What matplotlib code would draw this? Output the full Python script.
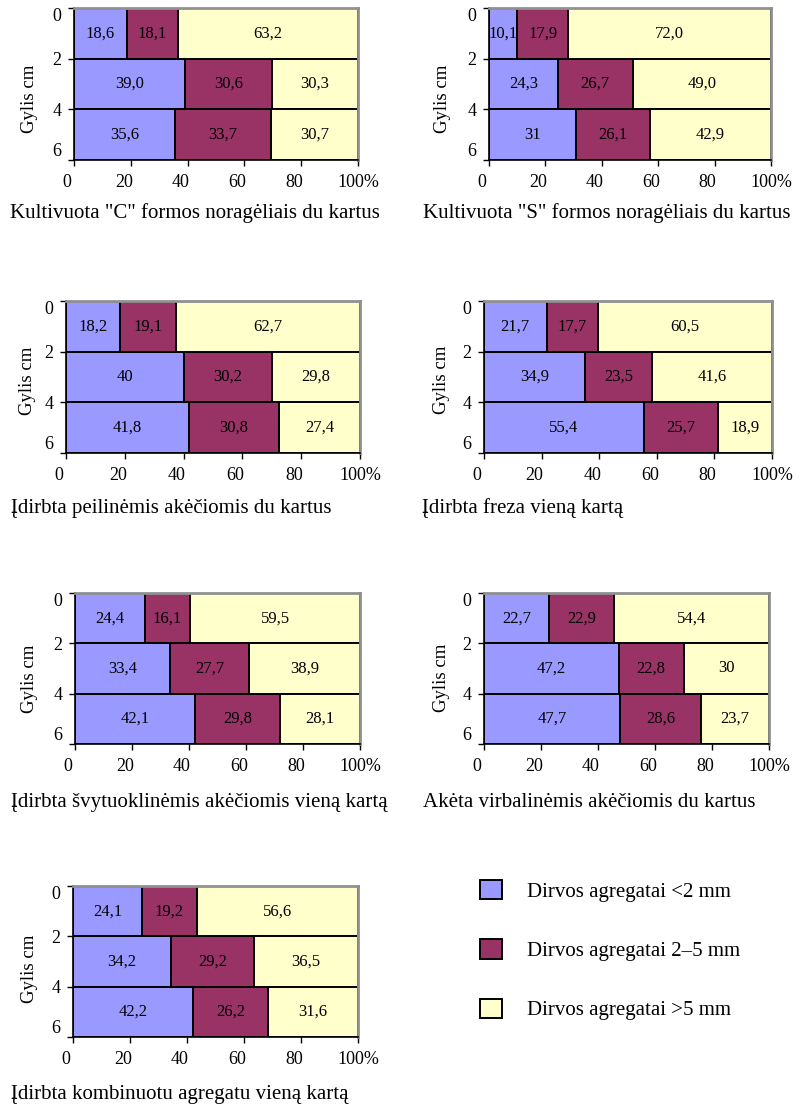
import matplotlib
matplotlib.use("Agg")
import matplotlib.pyplot as plt
import matplotlib.transforms as mtransforms
import numpy as np

plt.rcParams['font.family'] = ['Liberation Serif', 'DejaVu Serif']

# ---------------- data ----------------
depth_ticks = [0, 2, 4, 6]
x_ticks = [0, 20, 40, 60, 80, 100]
x_tick_labels = ["0", "20", "40", "60", "80", "100%"]
series_names = ["Dirvos agregatai <2 mm", "Dirvos agregatai 2\u20135 mm", "Dirvos agregatai >5 mm"]
colors = ["#9999FF", "#993366", "#FFFFCC"]

titles = [
    'Kultivuota "C" formos noragėliais du kartus',
    'Kultivuota "S" formos noragėliais du kartus',
    'Įdirbta peilinėmis akėčiomis du kartus',
    'Įdirbta freza vieną kartą',
    'Įdirbta švytuoklinėmis akėčiomis vieną kartą',
    'Akėta virbalinėmis akėčiomis du kartus',
    'Įdirbta kombinuotu agregatu vieną kartą',
]

# per panel: [fine <2mm], [medium 2-5mm], [coarse >5mm]  (rows: 0-2, 2-4, 4-6 cm)
fine = [
    ["18,6", "39,0", "35,6"],
    ["10,1", "24,3", "31"],
    ["18,2", "40", "41,8"],
    ["21,7", "34,9", "55,4"],
    ["24,4", "33,4", "42,1"],
    ["22,7", "47,2", "47,7"],
    ["24,1", "34,2", "42,2"],
]
medium = [
    ["18,1", "30,6", "33,7"],
    ["17,9", "26,7", "26,1"],
    ["19,1", "30,2", "30,8"],
    ["17,7", "23,5", "25,7"],
    ["16,1", "27,7", "29,8"],
    ["22,9", "22,8", "28,6"],
    ["19,2", "29,2", "26,2"],
]
coarse = [
    ["63,2", "30,3", "30,7"],
    ["72,0", "49,0", "42,9"],
    ["62,7", "29,8", "27,4"],
    ["60,5", "41,6", "18,9"],
    ["59,5", "38,9", "28,1"],
    ["54,4", "30", "23,7"],
    ["56,6", "36,5", "31,6"],
]

# ---------------- layout (pixels) ----------------
W, H = 807, 1107
# left, right, top, bottom of plot area
rects = [
    (74, 358, 8, 160),
    (489, 771, 8, 160),
    (66, 360, 301, 453),
    (484, 772, 301, 453),
    (75, 360, 593, 744),
    (484, 769, 593, 744),
    (73, 358, 886, 1037),
]
ylabel_pos = [(30, 99), (443, 99), (28, 381), (442, 380), (29, 679), (442, 678), (29, 969)]
caption_pos = [(10, 218), (423, 218), (11, 513), (422, 513), (11, 807), (423, 807), (11, 1099)]

fig = plt.figure(figsize=(W / 100, H / 100), dpi=100)

def px2fig(x, y):
    return x / W, 1 - y / H

shift_left = mtransforms.ScaledTranslation(-7 / 100, 0, fig.dpi_scale_trans)

handles = None
for i in range(7):
    l, r, t, b = rects[i]
    ax = fig.add_axes([l / W, 1 - b / H, (r - l) / W, (b - t) / H])
    rows = [fine[i], medium[i], coarse[i]]
    vals = np.array([[float(s.replace(',', '.')) for s in row] for row in rows])
    totals = vals.sum(axis=0)
    pct = vals / totals * 100
    ycent = np.array([1, 3, 5])
    left = np.zeros(3)
    hs = []
    for k in range(3):
        bars = ax.barh(ycent, pct[k], left=left, height=2, color=colors[k],
                       edgecolor='black', linewidth=1.4, label=series_names[k])
        hs.append(bars)
        for j in range(3):
            ax.text(left[j] + pct[k][j] / 2, ycent[j], rows[k][j],
                    ha='center', va='center', fontsize=12, color='black')
        left = left + pct[k]
    if handles is None:
        handles = hs
    ax.set_xlim(0, 100)
    ax.set_ylim(6, 0)
    ax.set_xticks(x_ticks)
    ax.set_xticklabels(x_tick_labels)
    ax.set_yticks(depth_ticks)
    ax.set_yticklabels([str(d) for d in depth_ticks])
    ax.tick_params(axis='both', labelsize=13, length=4, width=1, direction='out', color='black')
    ax.tick_params(axis='x', pad=6)
    ax.tick_params(axis='y', pad=5)
    xl = ax.get_xticklabels()
    for lab in xl[:-1]:
        lab.set_transform(lab.get_transform() + shift_left)
    yl = ax.get_yticklabels()
    yl[0].set_va('top')
    yl[-1].set_va('bottom')
    for s in ['top', 'right']:
        ax.spines[s].set_color('#909090')
        ax.spines[s].set_linewidth(2)
    for s in ['left', 'bottom']:
        ax.spines[s].set_color('black')
        ax.spines[s].set_linewidth(1.2)
    fx, fy = px2fig(*ylabel_pos[i])
    fig.text(fx, fy, "Gylis cm", rotation=90, ha='center', va='center', fontsize=13.5)
    cx, cy = px2fig(*caption_pos[i])
    fig.text(cx, cy, titles[i], ha='left', va='baseline', fontsize=15)

lx, ly = px2fig(480, 880)
fig.legend(handles, series_names, loc='upper left', bbox_to_anchor=(lx, ly),
           frameon=False, fontsize=15, handlelength=1.05, handleheight=1.05,
           handletextpad=1.2, labelspacing=1.8, borderpad=0, borderaxespad=0)

fig.savefig("out.png", dpi=100)
